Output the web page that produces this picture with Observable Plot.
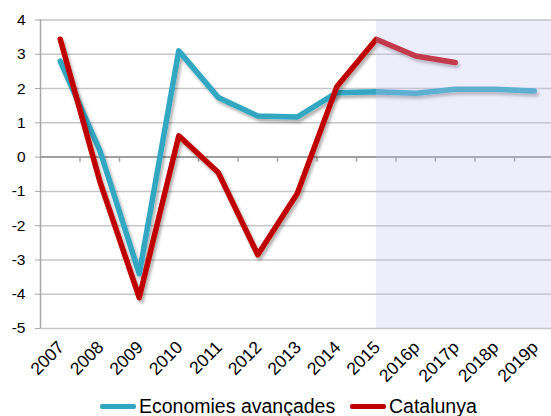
<!DOCTYPE html>
<html>
<head>
<meta charset="utf-8">
<script src="https://cdn.jsdelivr.net/npm/d3@7"></script>
<script src="https://cdn.jsdelivr.net/npm/@observablehq/plot@0.6"></script>
<style>
  html, body { margin: 0; padding: 0; background: #fff; }
  body { width: 551px; height: 416px; overflow: hidden; font-family: "Liberation Sans", Arial, sans-serif; }
  #legend { position: relative; height: 26px; font-size: 19.5px; color: #000; }
  .item { position: absolute; top: 2px; display: flex; align-items: center; height: 24px; }
  .swatch { width: 36px; height: 5px; margin-right: 3px; border-radius: 2px; }
</style>
</head>
<body>
<div id="chart"></div>
<div id="legend"></div>
<script>
const years = ["2007","2008","2009","2010","2011","2012","2013","2014","2015","2016p","2017p","2018p","2019p"];
const advanced = [2.8, 0.2, -3.4, 3.1, 1.74, 1.2, 1.17, 1.88, 1.91, 1.86, 1.98, 1.98, 1.93];
const catalunya = [3.44, -0.7, -4.1, 0.62, -0.45, -2.85, -1.06, 2.05, 3.44, 2.95, 2.76, null, null];
const yTicks = [-5, -4, -3, -2, -1, 0, 1, 2, 3, 4];
const forecastFrom = "2015";
const seriesNames = ["Economies avançades", "Catalunya"];
const seriesColors = ["#31A7C1", "#C00000"];

const idx = years.map((_, i) => i);
const advData = years.map((y, i) => ({x: i + 0.5, v: advanced[i]}));
const catData = years.map((y, i) => ({x: i + 0.5, v: catalunya[i]})).filter(d => d.v != null);
const fIdx = years.indexOf(forecastFrom);
const bounds = idx.slice(1);

const chart = Plot.plot({
  width: 551,
  height: 392,
  marginLeft: 40,
  marginRight: -2.5,
  marginTop: 19.5,
  marginBottom: 64,
  style: {fontFamily: "Liberation Sans, Arial, sans-serif", fontSize: "15px", color: "#000", background: "#fff", overflow: "visible"},
  x: {domain: [0, years.length]},
  y: {domain: [-5, 4]},
  marks: [
    Plot.ruleY(yTicks, {stroke: "#C6C6C6", strokeWidth: 1.5, strokeOpacity: 1}),
    Plot.axisY({ticks: yTicks, tickSize: 5, tickPadding: 10, stroke: "#A6A6A6", strokeOpacity: 1, tickFormat: d => String(d), fontSize: 15.5}),
    Plot.ruleX([0], {y1: -5, y2: 4, stroke: "#A6A6A6", strokeWidth: 1.5}),
    Plot.ruleY([0], {stroke: "#A0A0A0", strokeWidth: 2}),
    Plot.ruleX(bounds, {y1: 0, y2: -0.15, stroke: "#A0A0A0", strokeWidth: 1.5}),
    Plot.axisX({anchor: "bottom", ticks: idx.map(i => i + 0.5), tickFormat: d => years[Math.floor(d)], tickSize: 0, tickPadding: 16, dx: 1, tickRotate: -45, fontSize: 17.5, label: null}),
    Plot.line(advData, {x: "x", y: "v", stroke: seriesColors[0], strokeWidth: 5.5, strokeLinejoin: "round", strokeLinecap: "round"}),
    Plot.line(catData, {x: "x", y: "v", stroke: seriesColors[1], strokeWidth: 5.5, strokeLinejoin: "round", strokeLinecap: "round"}),
    Plot.rect([{x1: fIdx + 0.5, x2: years.length, y1: -5, y2: 4}], {x1: "x1", x2: "x2", y1: "y1", y2: "y2", fill: "rgb(200,195,245)", fillOpacity: 0.3})
  ]
});

// drop shadow filter for the lines
const svg = d3.select(chart);
const defs = svg.insert("defs", ":first-child");
const f = defs.append("filter").attr("id", "shadow").attr("x", "-10%").attr("y", "-10%").attr("width", "130%").attr("height", "130%");
f.append("feDropShadow").attr("dx", 2).attr("dy", 3).attr("stdDeviation", 1.6).attr("flood-color", "#000").attr("flood-opacity", 0.3);
svg.selectAll("g[aria-label=line]").attr("filter", "url(#shadow)");

document.getElementById("chart").appendChild(chart);

const legend = d3.select("#legend");
const lefts = [100, 350];
seriesNames.forEach((name, i) => {
  const it = legend.append("div").attr("class", "item").style("left", lefts[i] + "px");
  it.append("div").attr("class", "swatch").style("background", seriesColors[i]);
  it.append("span").text(name);
});
</script>
</body>
</html>
